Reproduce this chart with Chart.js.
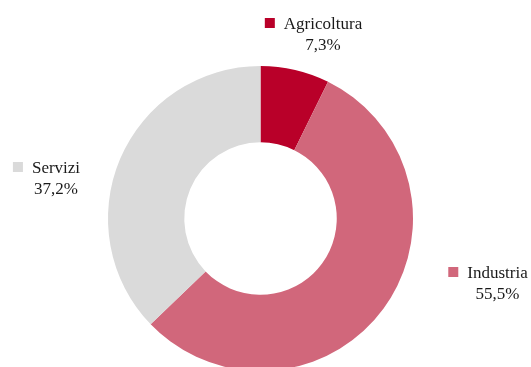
<!DOCTYPE html>
<html>
<head>
<meta charset="utf-8">
<script src="https://cdn.jsdelivr.net/npm/chart.js@4/dist/chart.umd.min.js"></script>
<style>
  html, body { margin: 0; padding: 0; background: #fff; overflow: hidden; }
  #wrap { position: relative; width: 531px; height: 380px; }
</style>
</head>
<body>
<div id="wrap"><canvas id="chart"></canvas></div>
<script>
/* ──────── DATA ──────── */

const LABELS = ['Agricoltura', 'Industria', 'Servizi'];
const VALUES = [7.3, 55.5, 37.2];
const COLORS = ['#b90029', '#d1677b', '#dadada'];

/* label anchor: centre of the name text, relative to the doughnut centre */
const LABEL_POS = [
  { dx: 62.5, dy: -189.5 },
  { dx: 237, dy: 59.5 },
  { dx: -204.5, dy: -45.5 }
];

const FONT = '17px "Liberation Serif", "Times New Roman", serif';

function formatPct(v) {
  return v.toFixed(1).replace('.', ',') + '%';
}

/* ──────── OUTSIDE LABELS ──────── */

const outsideLabels = {
  id: 'outsideLabels',
  afterDraw(chart) {
    const ctx = chart.ctx;
    const arcs = chart.getDatasetMeta(0).data;
    ctx.save();
    ctx.font = FONT;
    ctx.fillStyle = '#1a1a1a';
    ctx.textBaseline = 'alphabetic';
    ctx.textAlign = 'center';
    arcs.forEach((arc, i) => {
      const cx = arc.x + LABEL_POS[i].dx;
      const base = arc.y + LABEL_POS[i].dy;
      const name = LABELS[i];
      const w = ctx.measureText(name).width;
      ctx.fillStyle = COLORS[i];
      ctx.fillRect(cx - w / 2 - 19, base - 11, 10, 10);
      ctx.fillStyle = '#1a1a1a';
      ctx.fillText(name, cx, base);
      ctx.fillText(formatPct(VALUES[i]), cx, base + 21);
    });
    ctx.restore();
  }
};

/* ──────── CHART ──────── */

new Chart(document.getElementById('chart'), {
  type: 'doughnut',
  data: {
    labels: LABELS,
    datasets: [{
      data: VALUES,
      backgroundColor: COLORS,
      borderWidth: 0
    }]
  },
  options: {
    responsive: true,
    maintainAspectRatio: false,
    animation: false,
    cutout: '50%',
    layout: { padding: { left: 108, right: 118, top: 66, bottom: 9 } },
    plugins: {
      legend: { display: false },
      tooltip: { enabled: false }
    }
  },
  plugins: [outsideLabels]
});
</script>
</body>
</html>
